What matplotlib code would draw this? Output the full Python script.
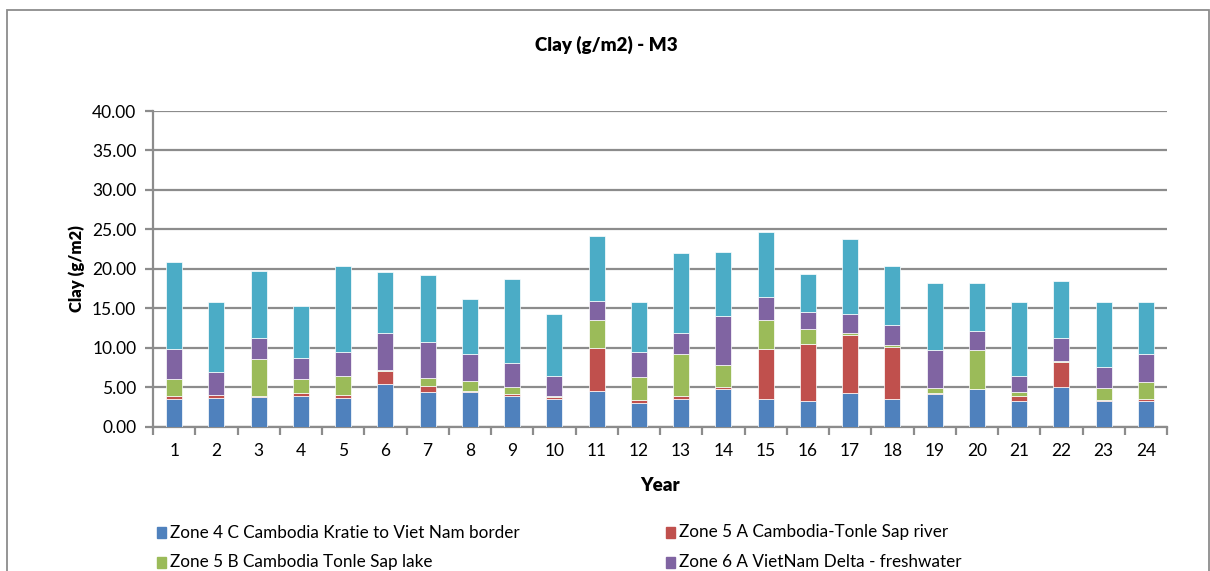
import matplotlib
matplotlib.use("Agg")
import matplotlib.pyplot as plt
from matplotlib.patches import Rectangle
import numpy as np

plt.rcParams['font.family'] = ['Lato', 'DejaVu Sans']

years = [str(i) for i in range(1, 25)]

zone_4c = [3.56, 3.69, 3.77, 3.94, 3.69, 5.47, 4.45, 4.45, 3.94, 3.56, 4.58, 3.05,
           3.56, 4.83, 3.56, 3.26, 4.24, 3.52, 4.19, 4.75, 3.22, 5.00, 3.22, 3.26]
zone_5a = [0.34, 0.29, 0.17, 0.30, 0.34, 1.61, 0.72, 0.08, 0.21, 0.17, 5.42, 0.34,
           0.30, 0.21, 6.31, 7.25, 7.41, 6.56, 0.13, 0.04, 0.68, 3.26, 0.21, 0.21]
zone_5b = [2.12, 0.05, 4.62, 1.78, 2.41, 0.12, 1.02, 1.23, 0.89, 0.17, 3.47, 2.97,
           5.38, 2.80, 3.69, 1.86, 0.26, 0.26, 0.55, 4.96, 0.51, 0.05, 1.49, 2.25]
zone_6a = [3.81, 2.96, 2.67, 2.71, 3.05, 4.71, 4.57, 3.43, 2.97, 2.54, 2.50, 3.13,
           2.58, 6.19, 2.84, 2.12, 2.41, 2.50, 4.79, 2.33, 2.03, 2.92, 2.66, 3.52]
zone_6b = [11.10, 8.77, 8.52, 6.57, 10.93, 7.71, 8.48, 7.00, 10.76, 7.88, 8.14, 6.32,
           10.21, 8.09, 8.30, 4.92, 9.45, 7.46, 8.52, 6.10, 9.32, 7.24, 8.23, 6.52]

series = [zone_4c, zone_5a, zone_5b, zone_6a, zone_6b]
labels = ["Zone 4 C Cambodia Kratie to Viet Nam border",
          "Zone 5 A Cambodia-Tonle Sap river",
          "Zone 5 B Cambodia Tonle Sap lake",
          "Zone 6 A VietNam Delta - freshwater"]
colors = ["#4F81BD", "#C0504D", "#9BBB59", "#8064A2", "#4BACC6"]

W, H = 1210, 571
fig = plt.figure(figsize=(W / 100, H / 100), dpi=100)

def fx(px):
    return px / W

def fy(py):
    return 1 - py / H

# outer chart border
fig.patches.append(Rectangle((fx(7), fy(600)), fx(1202), fy(10) - fy(600),
                             transform=fig.transFigure, fill=False,
                             edgecolor="#8c8c8c", linewidth=1.3))

ax = fig.add_axes([fx(153), fy(426.7), fx(1167) - fx(153), fy(111) - fy(426.7)])

grid_c = "#8c8c8c"
x = np.arange(1, len(years) + 1)
bottom = np.zeros(len(years))
for vals, c in zip(series, colors):
    ax.bar(x, vals, width=0.38, bottom=bottom, color=c,
           edgecolor="#ffffff", linewidth=0.5, zorder=3)
    bottom += np.array(vals)

ax.set_xlim(0.5, 24.5)
ax.set_ylim(0, 40)
ax.set_yticks(np.arange(0, 41, 5))
ax.set_yticklabels([f"{v:.2f}" for v in np.arange(0, 41, 5)])
ax.set_xticks(x)
ax.set_xticklabels(years)
ax.set_xticks(np.arange(0.5, 25, 1), minor=True)

ax.yaxis.grid(True, color=grid_c, linewidth=1.6, zorder=0)
ax.set_axisbelow(True)
for s in ["top", "right"]:
    ax.spines[s].set_visible(False)
for s in ["left", "bottom"]:
    ax.spines[s].set_color(grid_c)
    ax.spines[s].set_linewidth(1.6)

ax.tick_params(axis="y", length=6, width=1.6, color=grid_c, labelsize=12.5, pad=6)
ax.tick_params(axis="x", which="major", length=0, labelsize=12.5, pad=12)
ax.tick_params(axis="x", which="minor", length=6, width=1.6, color=grid_c)

ax.set_xlabel("Year", fontsize=13.5, fontweight="heavy", labelpad=13)
ax.set_ylabel("Clay (g/m2)", fontsize=12, fontweight="heavy", labelpad=5)

fig.text(fx(606), fy(45), "Clay (g/m2) - M3", ha="center", va="center",
         fontsize=13.5, fontweight="heavy")

# legend, two columns
legend_pos = [(157, 532.5), (666, 532.5), (157, 562), (666, 562)]
for (lx, ly), lab, c in zip(legend_pos, labels, colors):
    fig.patches.append(Rectangle((fx(lx), fy(ly + 5.5)), fx(9), fy(ly - 5.5) - fy(ly + 5.5),
                                 transform=fig.transFigure, color=c))
    fig.text(fx(lx + 13), fy(ly), lab, ha="left", va="center", fontsize=12.3)

fig.savefig("out.png", dpi=100)
